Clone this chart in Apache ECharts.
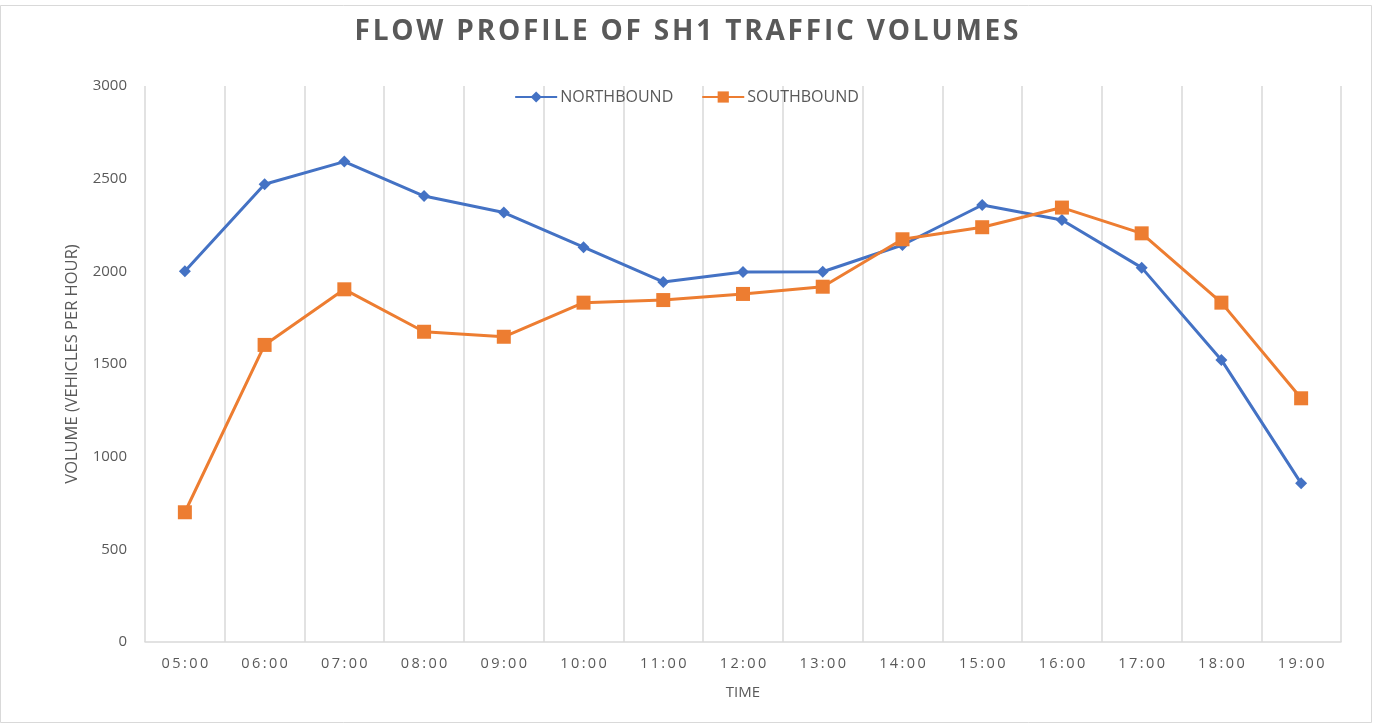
<!DOCTYPE html>
<html>
<head>
<meta charset="utf-8">
<script src="https://cdn.jsdelivr.net/npm/echarts@6/dist/echarts.min.js"></script>
<style>
html,body{margin:0;padding:0;background:#fff;}
#c{width:1373px;height:724px;}
</style>
</head>
<body>
<div id="c"></div>
<script>
const categories = ['05:00','06:00','07:00','08:00','09:00','10:00','11:00','12:00','13:00','14:00','15:00','16:00','17:00','18:00','19:00'];
const northbound = [2000, 2470, 2592, 2406, 2317, 2130, 1943, 1996, 1998, 2142, 2358, 2277, 2020, 1522, 856];
const southbound = [700, 1603, 1903, 1674, 1647, 1831, 1845, 1878, 1917, 2173, 2238, 2344, 2205, 1831, 1315];
const yTicks = [0, 500, 1000, 1500, 2000, 2500, 3000];

const spaced = (s, sp) => s.split('').join(sp);

const chart = echarts.init(document.getElementById('c'));
chart.setOption({
  backgroundColor: '#fff',
  animation: false,
  title: {
    text: spaced('FLOW PROFILE OF SH1 TRAFFIC VOLUMES', '\u200A'),
    left: 'center',
    top: 13,
    textStyle: {
      fontFamily: 'Open Sans',
      fontWeight: 'bold',
      fontSize: 28,
      color: '#595959'
    }
  },
  legend: {
    top: 84,
    left: 'center',
    itemGap: 28,
    itemWidth: 42,
    itemHeight: 14,
    textStyle: {fontFamily: 'Open Sans', fontSize: 16, color: '#595959', padding: [0, 0, 0, -2]},
    data: ['NORTHBOUND', 'SOUTHBOUND']
  },
  grid: {left: 145, right: 32, top: 86, bottom: 82, containLabel: false},
  xAxis: {
    type: 'category',
    data: categories,
    boundaryGap: true,
    name: 'TIME',
    nameLocation: 'middle',
    nameGap: 43,
    nameTextStyle: {fontFamily: 'Open Sans', fontSize: 15, color: '#595959'},
    axisLine: {show: true, lineStyle: {color: '#d9d9d9', width: 1.5}},
    axisTick: {show: false},
    splitLine: {show: true, lineStyle: {color: '#d9d9d9', width: 1.5}},
    axisLabel: {
      margin: 14,
      fontFamily: 'Open Sans',
      fontSize: 14.5,
      color: '#595959',
      formatter: v => spaced(v, '\u2009')
    }
  },
  yAxis: {
    type: 'value',
    min: yTicks[0],
    max: yTicks[yTicks.length - 1],
    interval: 500,
    name: 'VOLUME (VEHICLES PER HOUR)',
    nameLocation: 'middle',
    nameGap: 64,
    nameTextStyle: {fontFamily: 'Open Sans', fontSize: 16.5, color: '#595959'},
    axisLine: {show: false},
    axisTick: {show: false},
    splitLine: {show: false},
    axisLabel: {margin: 18, fontFamily: 'Open Sans', fontSize: 15, color: '#595959', formatter: v => String(v)}
  },
  series: [
    {
      name: 'NORTHBOUND',
      type: 'line',
      data: northbound,
      symbol: 'diamond',
      symbolSize: 12,
      itemStyle: {color: '#4472C4'},
      lineStyle: {color: '#4472C4', width: 3}
    },
    {
      name: 'SOUTHBOUND',
      type: 'line',
      data: southbound,
      symbol: 'rect',
      symbolSize: 14,
      itemStyle: {color: '#ED7D31'},
      lineStyle: {color: '#ED7D31', width: 3}
    }
  ],
  graphic: [{
    type: 'rect',
    shape: {x: 0.5, y: 5.5, width: 1371, height: 717},
    style: {fill: 'none', stroke: '#d9d9d9', lineWidth: 1},
    silent: true
  }]
});
</script>
</body>
</html>
